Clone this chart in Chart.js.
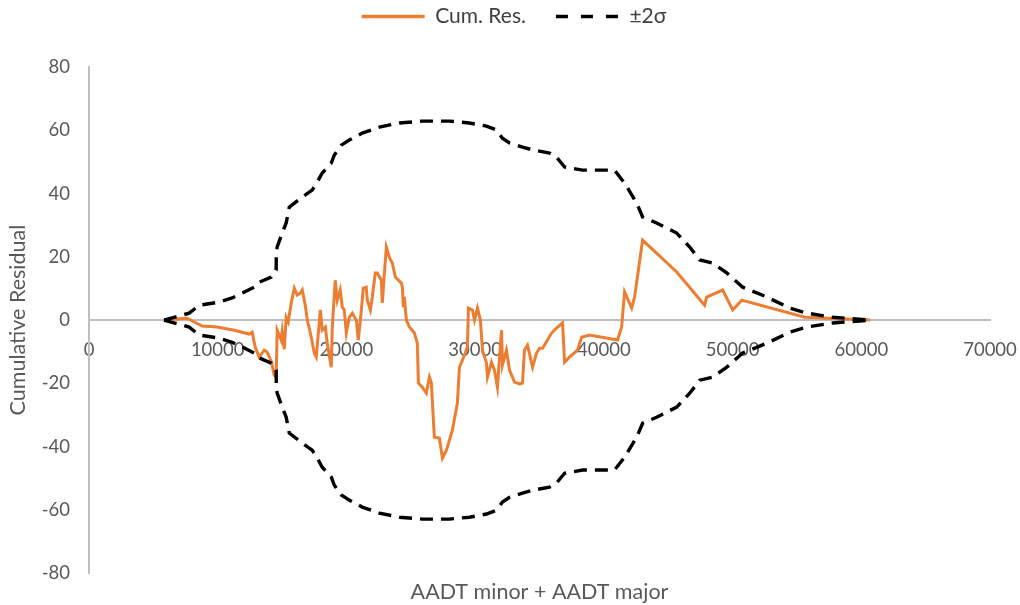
<!DOCTYPE html>
<html>
<head>
<meta charset="utf-8">
<script src="https://cdn.jsdelivr.net/npm/chart.js@4/dist/chart.umd.min.js"></script>
<style>
  html, body { margin: 0; padding: 0; background: #ffffff; }
  #wrap { width: 1020px; height: 605px; }
</style>
</head>
<body>
<div id="wrap"><canvas id="c" width="1020" height="605"></canvas></div>
<script>
// Cumulative residual (CURE) plot against total entering traffic
const aadt = [
  5830, 7620, 8790, 9960, 11280, 12440, 12680, 12910, 13220, 13610,
  13840, 14160, 14390, 14540, 14620, 14930, 15010, 15170, 15320, 15480,
  15710, 15950, 16180, 16410, 16570, 16800, 16960, 17270, 17500, 17660,
  17970, 18120, 18360, 18510, 18820, 18900, 19130, 19290, 19520, 19680,
  19830, 19990, 20220, 20460, 20770, 20920, 21160, 21310, 21540, 21620,
  21860, 22010, 22240, 22400, 22710, 22790, 22950, 23100, 23330, 23570,
  23800, 24270, 24350, 24420, 24500, 24660, 24890, 25280, 25510, 25590,
  25900, 26210, 26450, 26600, 26830, 27220, 27460, 27770, 28230, 28620,
  28780, 29170, 29400, 29480, 29790, 29950, 30180, 30410, 30570, 30880,
  30960, 31270, 31500, 31730, 32050, 32120, 32430, 32670, 33060, 33450,
  33680, 33830, 34070, 34460, 34770, 35000, 35240, 35620, 35940, 36320,
  36790, 36950, 37330, 37950, 38270, 38890, 41070, 41380, 41610, 42160,
  42390, 43010, 45660, 47830, 47990, 49230, 50010, 50710, 55610, 60670
];
const cumRes = [
  0, 0.6, -1.9, -2.2, -3.2, -4.4, -3.8, -8.5, -11.7, -9.5,
  -10.1, -13, -17.4, -18, -3.2, -6.3, -3.5, -9.2, 0.9, -0.6,
  5.4, 10.1, 7.9, 8.5, 9.5, 4.7, 0, -5.4, -10.4, -11.7,
  3.2, -3.2, -2.2, -7.3, -14.9, -2.2, 12.6, 6.3, 9.5, 4.1,
  3.2, -4.1, 0.9, 2.2, 0, -6.3, 3.2, 10.1, 10.4, 6.3,
  3.2, 7.3, 14.9, 14.9, 12.6, 5.4, 14.9, 23.1, 19.9, 18,
  13.6, 11.7, 10.4, 4.1, 7.3, 0, -2.2, -4.1, -7.3, -19.9,
  -21.2, -23.1, -18, -19.9, -37, -37.3, -43.6, -41.1, -34.8, -26.2,
  -14.9, -11.1, -8.5, 3.8, 3.2, 0, 3.8, 0, -9.5, -13.6,
  -18, -13.3, -15.8, -21.2, -3.2, -14.2, -9.5, -15.8, -19.6, -20.2,
  -19.9, -9.5, -7.9, -14.9, -10.4, -8.9, -8.9, -6.3, -4.1, -2.5,
  -0.9, -13.3, -11.7, -9.5, -5.4, -4.7, -6.3, -2.2, 8.9, 3.8,
  7.3, 25.3, 15.2, 4.7, 7.3, 9.5, 3.2, 6.3, 0.9, 0
];

// Two-sigma limits of the cumulative residuals
const sigmaAadt = [
  5830, 7780, 8560, 10110, 11120, 11900, 12830, 13070, 14160, 14540,
  14550, 14620, 15010, 15320, 15560, 16570, 17340, 17730, 18120, 18820,
  19060, 19600, 20220, 21230, 22560, 24110, 25900, 28000, 29560, 30880,
  31660, 32120, 32670, 33680, 34460, 35780, 36320, 36950, 38350, 40830,
  41610, 41850, 42550, 43010, 44100, 45660, 46670, 47450, 48460, 49550,
  50790, 52660, 54450, 55770, 57790, 60670
];
const upper2s = [
  0, 2.2, 4.7, 5.7, 7, 8.5, 10.4, 11.7, 13.6, 15.8,
  21.2, 23.1, 27.5, 30.7, 35.7, 38.9, 41.1, 43.6, 46.5, 49.6,
  52.2, 55.3, 56.9, 59.1, 61, 62.3, 62.9, 62.9, 62.3, 61.3,
  60.1, 57.5, 56, 54.7, 53.8, 52.8, 51.5, 48.4, 47.4, 47.4,
  43.3, 41.7, 37, 32.6, 30.7, 27.5, 23.1, 19, 18, 14.9,
  10.4, 7.3, 3.8, 2.2, 0.9, 0
];
const lower2s = [
  0, -2.2, -4.7, -5.7, -7, -8.5, -10.4, -11.7, -13.6, -15.8,
  -21.2, -23.1, -27.5, -30.7, -35.7, -38.9, -41.1, -43.6, -46.5, -49.6,
  -52.2, -55.3, -56.9, -59.1, -61, -62.3, -62.9, -62.9, -62.3, -61.3,
  -60.1, -57.5, -56, -54.7, -53.8, -52.8, -51.5, -48.4, -47.4, -47.4,
  -43.3, -41.7, -37, -32.6, -30.7, -27.5, -23.1, -19, -18, -14.9,
  -10.4, -7.3, -3.8, -2.2, -0.9, 0
];

const seriesNames = ['Cum. Res.', '±2σ'];
const xTitle = 'AADT minor + AADT major';
const yTitle = 'Cumulative Residual';

const pairs = (xs, ys) => xs.map((x, i) => ({ x: x, y: ys[i] }));

const FONT = 'Lato, "Open Sans", "DejaVu Sans", sans-serif';
const ORANGE = '#ED7D31';
const TICK = '#595959';
const AXIS = '#BFBFBF';
const PLOT_TOP = 67;       // top edge of the plotting area
const TOP_SHIFT = -24;     // pulls the legend row up towards the canvas edge
const LEGEND_CENTER = 514; // horizontal centre of the legend row

// Fixes the legend block height so the plot starts at PLOT_TOP,
// and re-centres the legend row after layout
const legendPlace = {
  id: 'legendPlace',
  beforeInit(chart) {
    const lg = chart.legend;
    const fit = lg.fit;
    lg.fit = function () {
      fit.call(this);
      this.height = PLOT_TOP - TOP_SHIFT;
    };
  },
  afterLayout(chart) {
    const lg = chart.legend;
    const shift = LEGEND_CENTER - (lg.left + lg.right) / 2;
    lg.left += shift;
    lg.right += shift;
  }
};

new Chart(document.getElementById('c'), {
  type: 'line',
  plugins: [legendPlace],
  data: {
    datasets: [
      {
        label: seriesNames[0],
        data: pairs(aadt, cumRes),
        borderColor: ORANGE,
        backgroundColor: ORANGE,
        borderWidth: 3,
        pointRadius: 0,
        tension: 0,
        order: 3
      },
      {
        label: seriesNames[1],
        data: pairs(sigmaAadt, upper2s),
        borderColor: '#000000',
        backgroundColor: '#000000',
        borderWidth: 3.4,
        borderDash: [13, 8],
        pointRadius: 0,
        tension: 0,
        order: 1
      },
      {
        label: seriesNames[1] + ' lower',
        data: pairs(sigmaAadt, lower2s),
        borderColor: '#000000',
        backgroundColor: '#000000',
        borderWidth: 3.4,
        borderDash: [13, 8],
        pointRadius: 0,
        tension: 0,
        order: 2
      }
    ]
  },
  options: {
    responsive: false,
    animation: false,
    layout: { padding: { top: TOP_SHIFT, right: 30, bottom: 0, left: 0 } },
    plugins: {
      tooltip: { enabled: false },
      legend: {
        position: 'top',
        align: 'center',
        labels: {
          usePointStyle: true,
          pointStyle: 'line',
          pointStyleWidth: 63,
          boxHeight: 21,
          padding: 30,
          color: '#404040',
          font: { family: FONT, size: 21 },
          generateLabels(chart) {
            const items = Chart.defaults.plugins.legend.labels.generateLabels(chart)
              .filter(it => it.datasetIndex < 2)
              .sort((a, b) => a.datasetIndex - b.datasetIndex);
            items.forEach(it => {
              it.pointStyle = 'line';
              if (it.datasetIndex === 1) { it.lineDash = [12, 13]; it.lineWidth = 3.6; }
              else { it.lineWidth = 3.4; }
            });
            return items;
          }
        }
      }
    },
    scales: {
      x: {
        type: 'linear',
        position: { y: 0 },
        min: 0,
        max: 70000,
        grid: { display: false, drawTicks: false },
        border: { display: true, color: AXIS, width: 2 },
        ticks: {
          stepSize: 10000,
          color: TICK,
          padding: 19,
          maxRotation: 0,
          autoSkip: false,
          font: { family: FONT, size: 18.5 },
          callback: v => String(v)
        },
        afterFit: s => { s.paddingLeft = 0; s.paddingRight = 0; }
      },
      xt: {
        type: 'linear',
        axis: 'x',
        position: 'bottom',
        min: 0,
        max: 70000,
        grid: { display: false, drawTicks: false },
        border: { display: false },
        ticks: { display: false },
        title: {
          display: true,
          text: xTitle,
          color: TICK,
          padding: { top: 6, bottom: 0 },
          font: { family: FONT, size: 21.5 }
        },
        afterFit: s => { s.paddingLeft = 0; s.paddingRight = 0; }
      },
      y: {
        type: 'linear',
        position: 'left',
        min: -80,
        max: 80,
        grid: { display: false, drawTicks: false },
        border: { display: true, color: AXIS, width: 2 },
        ticks: {
          stepSize: 20,
          color: TICK,
          padding: 19,
          font: { family: FONT, size: 18.5 }
        },
        title: {
          display: true,
          text: yTitle,
          color: TICK,
          padding: { top: 5, bottom: 0 },
          font: { family: FONT, size: 21.5 }
        },
        afterFit: s => { s.width = 89; }
      }
    }
  }
});
</script>
</body>
</html>
